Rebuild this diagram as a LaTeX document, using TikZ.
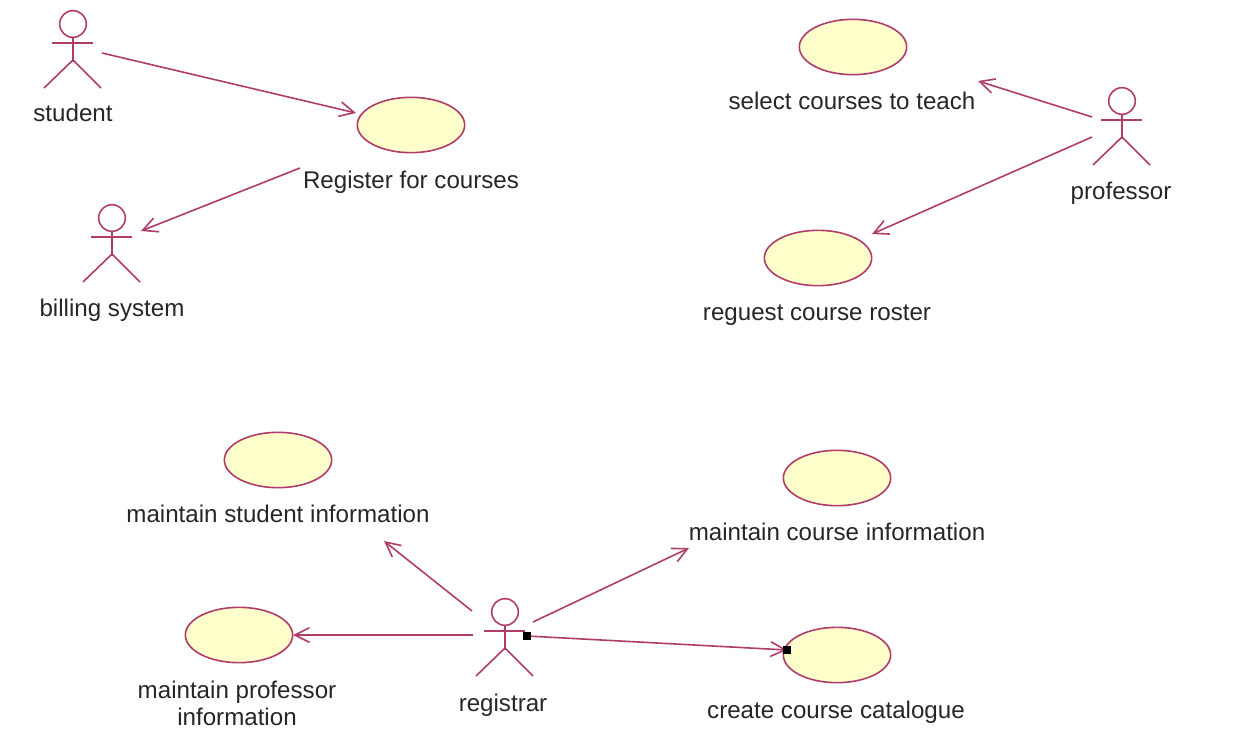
\documentclass[tikz,border=0pt]{standalone}
\usepackage{fontspec}
\setmainfont{Liberation Sans}
\usetikzlibrary{arrows.meta,shapes.geometric}
\definecolor{umlline}{RGB}{176,60,105}
\definecolor{umlfill}{RGB}{255,255,204}
\tikzset{
  x=0.75pt,y=-0.75pt,
  line/.style={draw=umlline,line width=1.2pt},
  usecase/.style={ellipse,draw=umlline,line width=1.2pt,fill=umlfill,minimum width=80.5pt,minimum height=41.5pt,inner sep=0pt},
  lbl/.style={font=\fontsize{18.1pt}{20.3pt}\selectfont,text=black!85,inner sep=0pt,align=center},
  assoc/.style={line,-{Straight Barb[length=11pt,width=11pt,line width=1.2pt]},shorten >=0pt},
  handle/.style={fill=black,draw=none,minimum size=6.5pt,inner sep=0pt}
}
% actor: name, head centre x, y
\newcommand{\umlactor}[3]{%
  \node[circle,line,minimum size=20pt,inner sep=0pt] (#1) at (#2,#3) {};
  \draw[line] (#1.south) -- ++(0,24);
  \draw[line] (#2-21,#3+19) -- (#2+20,#3+19);
  \draw[line] (#2-29,#3+64) -- (#2,#3+36) -- (#2+28,#3+64);
}
\begin{document}
\begin{tikzpicture}
\useasboundingbox (0,0) rectangle (1259,756);
\umlactor{student}{73}{24}
\umlactor{billing}{112}{218}
\umlactor{professor}{1122}{101}
\umlactor{registrar}{505}{612}
\node[lbl] (tstudent) at (73,113) {student};
\node[lbl] (tbilling) at (112,310) {billing system};
\node[lbl] (tprofessor) at (1121,193) {professor};
\node[lbl] (tregistrar) at (503,705) {registrar};
\node[usecase] (uregister) at (411,125) {};
\node[usecase] (uselect) at (853,47) {};
\node[usecase] (uroster) at (818,258) {};
\node[usecase] (ustudent) at (278,460) {};
\node[usecase] (ucourse) at (837,478) {};
\node[usecase] (uprof) at (239,635) {};
\node[usecase] (ucat) at (837,655) {};
\node[lbl] (tregister) at (411,182) {Register for courses};
\node[lbl] (tselect) at (852,101) {select courses to teach};
\node[lbl] (troster) at (817,315) {reguest course roster};
\node[lbl] (tstudentinfo) at (278,514) {maintain student information};
\node[lbl] (tcourse) at (837,532) {maintain course information};
\node[lbl] (tprof) at (237,703) {maintain professor\\information};
\node[lbl] (tcat) at (836,712) {create course catalogue};
\coordinate (a1) at (102,53);
\coordinate (a1e) at (356,113);
\coordinate (a2) at (300,168);
\coordinate (a2e) at (141,231);
\coordinate (a3) at (1092,117);
\coordinate (a3e) at (978,81);
\coordinate (a4) at (1092,137);
\coordinate (a4e) at (872,234);
\coordinate (a5) at (472,611);
\coordinate (a5e) at (384,541);
\coordinate (a6) at (533,622);
\coordinate (a6e) at (689,548);
\coordinate (a7) at (473,635);
\coordinate (a7e) at (293,635);
\node[handle] (h1) at (527,636) {};
\node[handle] (h2) at (787,650) {};
\draw[assoc] (a1) -- (a1e);
\draw[assoc] (a2) -- (a2e);
\draw[assoc] (a3) -- (a3e);
\draw[assoc] (a4) -- (a4e);
\draw[assoc] (a5) -- (a5e);
\draw[assoc] (a6) -- (a6e);
\draw[assoc] (a7) -- (a7e);
\draw[assoc] (h1.center) -- (h2.center);
\node[handle] at (h1) {};
\node[handle] at (h2) {};
\end{tikzpicture}
\end{document}
